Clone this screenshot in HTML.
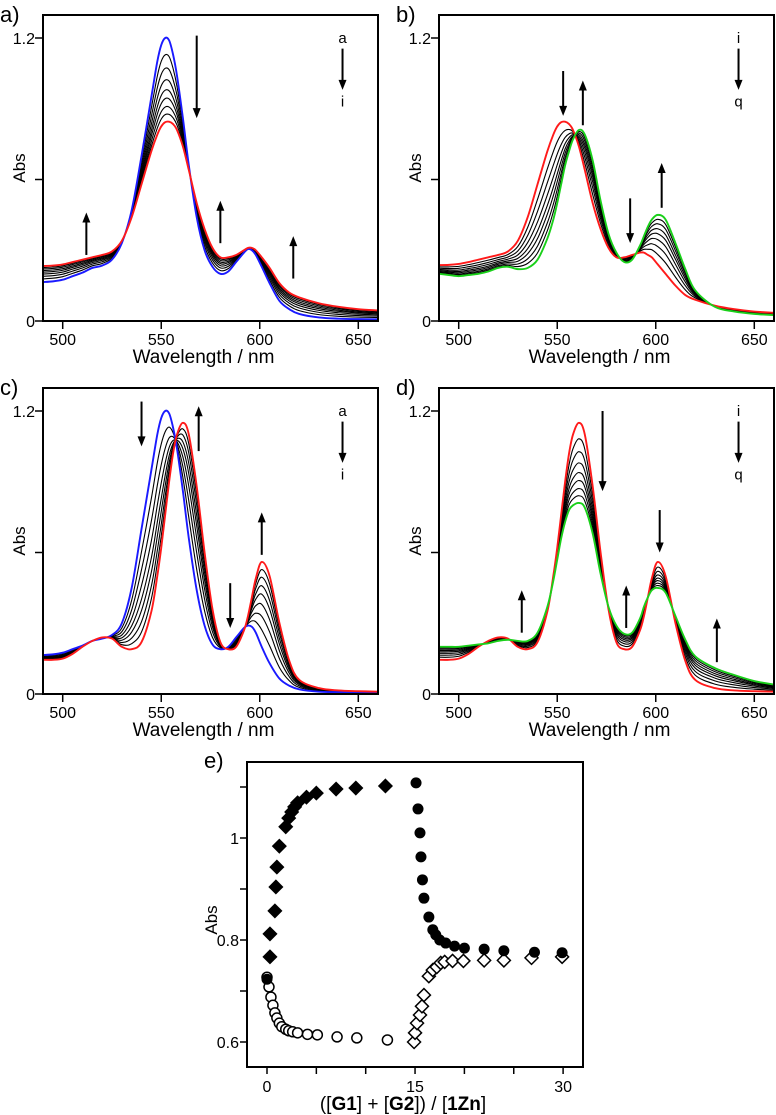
<!DOCTYPE html>
<html><head><meta charset="utf-8">
<style>
html,body{margin:0;padding:0;background:#fff;}
svg{display:block;font-family:"Liberation Sans",Arial,sans-serif;}
</style></head>
<body>
<svg id="fig" width="776" height="1115" viewBox="0 0 776 1115" xmlns="http://www.w3.org/2000/svg"></svg>
<script>
// ---------- spectra data (shared wavelength grid) ----------
const wl = [490,495,500,505,510,515,520,525,530,535,540,545,548,550,552,554,556,558,561,564,568,572,576,580,584,588,592,594,596,598,601,605,610,615,620,630,640,650,660];
const aBlue = [.165,.168,.175,.19,.205,.225,.235,.26,.33,.47,.70,.95,1.10,1.17,1.2,1.19,1.13,1.04,.86,.66,.44,.3,.23,.2,.21,.25,.29,.305,.3,.28,.23,.16,.085,.05,.03,.015,.01,.008,.007];
const aRed = [.233,.235,.24,.25,.26,.27,.28,.295,.34,.44,.58,.72,.79,.825,.843,.845,.835,.81,.74,.64,.5,.39,.31,.27,.27,.28,.3,.31,.31,.3,.27,.225,.16,.12,.1,.075,.06,.05,.045];
const bRed = [.237,.238,.242,.25,.26,.27,.28,.295,.34,.44,.58,.72,.79,.825,.843,.845,.835,.81,.74,.64,.5,.39,.31,.27,.27,.28,.29,.29,.28,.27,.24,.2,.15,.11,.09,.065,.05,.04,.035];
const bGreen = [.2,.195,.19,.195,.2,.21,.225,.23,.22,.225,.26,.35,.43,.5,.58,.66,.72,.77,.81,.79,.68,.51,.37,.29,.25,.26,.32,.36,.40,.43,.45,.43,.33,.22,.13,.06,.04,.03,.025];
const cBlue = [.165,.168,.175,.19,.205,.225,.235,.25,.3,.45,.70,.95,1.10,1.17,1.2,1.19,1.13,1.04,.86,.66,.44,.29,.21,.19,.2,.24,.28,.29,.285,.26,.2,.13,.065,.035,.02,.01,.008,.006,.005];
const cRed = [.145,.145,.15,.17,.2,.225,.24,.235,.2,.19,.22,.35,.5,.62,.76,.9,1.02,1.1,1.15,1.1,.88,.6,.36,.22,.19,.2,.27,.33,.41,.49,.56,.5,.3,.14,.06,.025,.015,.012,.01];
const dRed = [.145,.145,.15,.17,.2,.225,.24,.235,.2,.19,.22,.35,.5,.62,.76,.9,1.02,1.1,1.15,1.1,.88,.6,.36,.22,.19,.2,.27,.33,.41,.49,.56,.5,.3,.14,.06,.025,.015,.012,.01];
const dGreen = [.2,.2,.2,.205,.21,.215,.225,.23,.225,.225,.26,.37,.48,.57,.66,.73,.78,.8,.81,.79,.68,.51,.37,.29,.255,.26,.32,.37,.41,.44,.45,.43,.33,.23,.16,.11,.08,.055,.04];
const fractions = [0,.2,.36,.5,.62,.72,.82,.91,1];
const xTicks = [500,550,600,650];
const yTicks = [0,0.6,1.2];
const yTickLabels = ["0","","1.2"];

// ---------- panel e data ----------
const eFilledDiamondX = [0.3,0.3,0.8,0.9,1.0,1.25,1.9,2.2,2.5,2.8,3.1,4.0,5.0,7.0,9.0,12.0];
const eFilledDiamondY = [.767,.812,.857,.904,.943,.984,1.022,1.039,1.051,1.061,1.069,1.080,1.088,1.096,1.098,1.102];
const eOpenCircleX = [0,0.2,0.4,0.6,0.8,1.0,1.25,1.5,1.9,2.2,2.6,3.1,4.1,5.1,7.1,9.1,12.2];
const eOpenCircleY = [.727,.708,.688,.672,.657,.647,.637,.63,.625,.622,.62,.618,.615,.614,.61,.608,.604];
const eFilledCircleX = [0,15.1,15.3,15.5,15.6,15.75,15.9,16.4,16.8,17.1,17.5,18.1,19.0,20.0,22.0,24.0,27.1,29.9];
const eFilledCircleY = [.723,1.108,1.057,1.01,.963,.918,.882,.845,.82,.81,.80,.794,.788,.784,.782,.779,.776,.775];
const eOpenDiamondX = [14.9,15.0,15.2,15.5,15.7,15.9,16.4,16.8,17.2,17.6,18.0,18.8,19.9,22.0,24.0,26.8,29.9];
const eOpenDiamondY = [.6,.618,.637,.653,.67,.692,.729,.741,.747,.755,.757,.759,.759,.76,.76,.765,.767];
const eXTicks = [0,5,10,15,20,25,30];
const eXTickLabels = ["0","","","15","","","30"];
const eYTicks = [0.6,0.7,0.8,0.9,1.0,1.1];
const eYTickLabels = ["0.6","","0.8","","1",""];

const NS = "http://www.w3.org/2000/svg";
const svg = document.getElementById("fig");
function mk(tag, attrs, parent){ const e=document.createElementNS(NS,tag); for(const k in attrs) e.setAttribute(k,attrs[k]); (parent||svg).appendChild(e); return e; }
function smoothPath(pts){
  let d = "M"+pts[0][0].toFixed(2)+","+pts[0][1].toFixed(2);
  for(let i=0;i<pts.length-1;i++){
    const p0=pts[Math.max(0,i-1)], p1=pts[i], p2=pts[i+1], p3=pts[Math.min(pts.length-1,i+2)];
    const c1x=p1[0]+(p2[0]-p0[0])/6, c1y=p1[1]+(p2[1]-p0[1])/6;
    const c2x=p2[0]-(p3[0]-p1[0])/6, c2y=p2[1]-(p3[1]-p1[1])/6;
    d+=" C"+c1x.toFixed(2)+","+c1y.toFixed(2)+" "+c2x.toFixed(2)+","+c2y.toFixed(2)+" "+p2[0].toFixed(2)+","+p2[1].toFixed(2);
  }
  return d;
}
function arrow(g, x, y1, y2){
  const dir = y2>y1?1:-1;
  mk("line",{x1:x,y1:y1,x2:x,y2:y2-dir*8,stroke:"#000","stroke-width":2},g);
  mk("polygon",{points:`${x-4},${y2-dir*10} ${x+4},${y2-dir*10} ${x},${y2}`,fill:"#000"},g);
}

const panels = [
  {id:"a",left:43,top:15,first:aBlue,last:aRed,c1:"#1a1aff",c2:"#ff1a1a",lab:["a","i"],
   arrows:[[568,1.21,.86],[512,.28,.46],[580,.33,.51],[617,.18,.36]]},
  {id:"b",left:439,top:15,first:bRed,last:bGreen,c1:"#ff1a1a",c2:"#1ad01a",lab:["i","q"],
   arrows:[[553,1.06,.87],[563,.83,1.02],[587,.52,.33],[603,.48,.67]]},
  {id:"c",left:43,top:388,first:cBlue,last:cRed,c1:"#1a1aff",c2:"#ff1a1a",lab:["a","i"],
   arrows:[[540,1.24,1.05],[569,1.03,1.22],[585,.47,.28],[601,.59,.77]]},
  {id:"d",left:439,top:388,first:dRed,last:dGreen,c1:"#ff1a1a",c2:"#1ad01a",lab:["i","q"],
   arrows:[[532,.26,.44],[573,1.2,.86],[585,.28,.46],[602,.78,.6],[631,.135,.32]]}
];
const PW=335, PH=306, XMIN=490, XMAX=660, YMAX=1.2*306/283;

panels.forEach(p=>{
  const g = mk("g",{});
  
  
  const X = v => p.left + (v-XMIN)/(XMAX-XMIN)*PW;
  const Y = v => p.top + PH - v/YMAX*PH;
  const clipId="clip"+p.id;
  const cp=mk("clipPath",{id:clipId},g); mk("rect",{x:p.left,y:p.top,width:PW,height:PH},cp);
  const lines = mk("g",{"clip-path":`url(#${clipId})`},g);
  fractions.forEach((t,k)=>{
    const pts = wl.map((w,i)=>[X(w), Y(p.first[i]*(1-t)+p.last[i]*t)]);
    const isEnd = (k===0||k===fractions.length-1);
    if(isEnd) return;
    const path = mk("path",{d:smoothPath(pts),fill:"none",stroke:"#000","stroke-width":1.1},lines);
    
    
  });
  [[p.first,p.c1,"first"],[p.last,p.c2,"last"]].forEach(([arr,col,nm])=>{
    const pts = wl.map((w,i)=>[X(w),Y(arr[i])]);
    const path = mk("path",{d:smoothPath(pts),fill:"none",stroke:col,"stroke-width":1.9},lines);
    
    
  });
  mk("rect",{x:p.left,y:p.top,width:PW,height:PH,fill:"none",stroke:"#000","stroke-width":2},g);
  xTicks.forEach(v=>{
    mk("line",{x1:X(v),y1:p.top+PH,x2:X(v),y2:p.top+PH+8,stroke:"#000","stroke-width":1.5},g);
    const t=mk("text",{x:X(v),y:p.top+PH+24,"text-anchor":"middle","font-size":16},g); t.textContent=v;
     
  });
  yTicks.forEach((v,i)=>{
    mk("line",{x1:p.left-8,y1:Y(v),x2:p.left,y2:Y(v),stroke:"#000","stroke-width":1.5},g);
    if(yTickLabels[i]){ const t=mk("text",{x:p.left-8,y:Y(v)+6,"text-anchor":"end","font-size":16},g); t.textContent=yTickLabels[i];
        }
  });
  const xt=mk("text",{x:p.left+PW/2-7,y:p.top+PH+42,"text-anchor":"middle","font-size":19},g); xt.textContent="Wavelength / nm";
   
  const yt=mk("text",{x:0,y:0,"text-anchor":"middle","font-size":17,transform:`translate(${p.left-18},${p.top+153}) rotate(-90)`},g); yt.textContent="Abs";
   
  const pl=mk("text",{x:p.left-43,y:p.top+7,"font-size":22},g); pl.textContent=p.id+")";
   
  p.arrows.forEach(a=>arrow(g,X(a[0]),Y(a[1]),Y(a[2])));
  const lx=X(642);
  const l1=mk("text",{x:lx,y:Y(1.2)+5,"text-anchor":"middle","font-size":15},g); l1.textContent=p.lab[0];
   
  arrow(g,lx,Y(1.155),Y(0.98));
  const l2=mk("text",{x:lx,y:Y(0.93)+5,"text-anchor":"middle","font-size":15},g); l2.textContent=p.lab[1];
   
});

// ---------- panel e ----------
(function(){
  const g = mk("g",{});
  
  
  const L=247,T=762,R=583,B=1067;
  const X = v => 267 + v*9.87;
  const Y = v => 1042 - (v-0.6)*510;
  mk("rect",{x:L,y:T,width:R-L,height:B-T,fill:"none",stroke:"#000","stroke-width":2},g);
  eXTicks.forEach((v,i)=>{
    mk("line",{x1:X(v),y1:B,x2:X(v),y2:B+7,stroke:"#000","stroke-width":1.5},g);
    if(eXTickLabels[i]){ const t=mk("text",{x:X(v),y:B+25,"text-anchor":"middle","font-size":16},g); t.textContent=eXTickLabels[i];
        }
  });
  eYTicks.forEach((v,i)=>{
    mk("line",{x1:L-7,y1:Y(v),x2:L,y2:Y(v),stroke:"#000","stroke-width":1.5},g);
    if(eYTickLabels[i]){ const t=mk("text",{x:L-8,y:Y(v)+6,"text-anchor":"end","font-size":16},g); t.textContent=eYTickLabels[i];
        }
  });
  const yt=mk("text",{x:0,y:0,"text-anchor":"middle","font-size":17,transform:`translate(${L-30},${920}) rotate(-90)`},g); yt.textContent="Abs";
   
  const xt=mk("text",{x:(L+R)/2-12,y:1110,"text-anchor":"middle","font-size":19},g);
   
  xt.innerHTML='([<tspan font-weight="bold">G1</tspan>] + [<tspan font-weight="bold">G2</tspan>]) / [<tspan font-weight="bold">1Zn</tspan>]';
  const pl=mk("text",{x:204,y:768,"font-size":22},g); pl.textContent="e)";
   
  function diamond(x,y,filled){
    const s=6.5;
    const d=mk("polygon",{points:`${x},${y-s} ${x+s},${y} ${x},${y+s} ${x-s},${y}`,fill:filled?"#000":"#fff",stroke:"#000","stroke-width":1.5},g);
    return d;
  }
  eOpenCircleX.forEach((v,i)=>{
    const c=mk("circle",{cx:X(v),cy:Y(eOpenCircleY[i]),r:5,fill:"#fff",stroke:"#000","stroke-width":1.5},g);
     
  });
  eOpenDiamondX.forEach((v,i)=>{
    const d=diamond(X(v),Y(eOpenDiamondY[i]),false);
     
  });
  eFilledDiamondX.forEach((v,i)=>{
    const d=diamond(X(v),Y(eFilledDiamondY[i]),true);
     
  });
  eFilledCircleX.forEach((v,i)=>{
    const c=mk("circle",{cx:X(v),cy:Y(eFilledCircleY[i]),r:5.5,fill:"#000"},g);
     
  });
})();
</script>
</body></html>
